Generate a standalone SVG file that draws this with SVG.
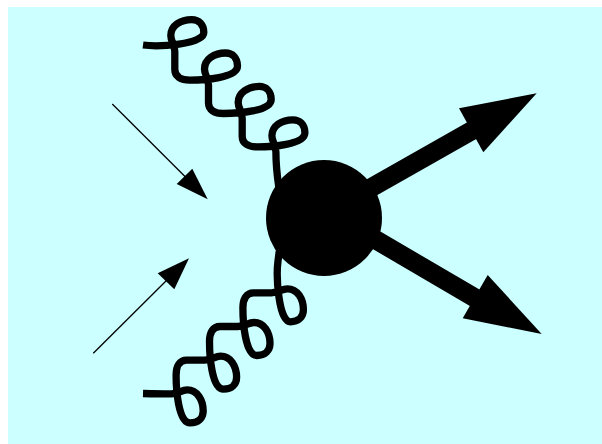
<svg xmlns="http://www.w3.org/2000/svg" width="602" height="444" viewBox="0 0 602 444">
<style>
.gluon{fill:none;stroke:#000;stroke-width:7.3;stroke-linejoin:round}
.thin{fill:none;stroke:#000;stroke-width:1.3}
.thick{fill:none;stroke:#000;stroke-width:19}
.head{fill:#000;stroke:none}
</style>
<rect x="8" y="7" width="594" height="437" fill="#ccffff"/>
<g id="connectors">
<path id="gluon-upper" class="gluon" d="M 143,45 C 158,47 203.8,44.6 203.8,32.6 c 0,-8 -5,-13 -12,-13 c -11,0 -21,6 -21,16 c 0,6 4,9 4,16 l 0,18 c 0,7 6,10.5 15,10.5 c 13.7,0 47.7,-2.1 47.7,-14.1 c 0,-8 -5,-13 -12,-13 c -11,0 -21,6 -21,16 c 0,6 4,9 4,16 l 0,18 c 0,7 6,10.5 15,10.5 c 13.7,0 47.7,-2.1 47.7,-14.1 c 0,-8 -5,-13 -12,-13 c -11,0 -21,6 -21,16 c 0,6 4,9 4,16 l 0,18 c 0,7 6,10.5 15,10.5 c 13.7,0 47.7,-2.1 47.7,-14.1 c 0,-8 -5,-13 -12,-13 c -11,0 -21,6 -21,16 c 0,6 4,9 4,16 c 0,12 1.5,26 3,36"/>
<path id="gluon-lower" class="gluon" transform="translate(1,2)" d="M 278.3,249 L 277,259 C 275,274 277.4,319.8 289.4,319.8 c 8,0 13,-5 13,-12 c 0,-11 -6,-21 -16,-21 c -6,0 -9,4 -16,4 l -18,0 c -7,0 -10.5,6 -10.5,15 c 0,13.7 2.1,47.7 14.1,47.7 c 8,0 13,-5 13,-12 c 0,-11 -6,-21 -16,-21 c -6,0 -9,4 -16,4 l -18,0 c -7,0 -10.5,6 -10.5,15 c 0,13.7 2.1,47.7 14.1,47.7 c 8,0 13,-5 13,-12 c 0,-11 -6,-21 -16,-21 c -6,0 -9,4 -16,4 l -18,0 c -7,0 -10.5,6 -10.5,15 c 0,13.7 2.1,47.7 14.1,47.7 c 8,0 13,-5 13,-12 c 0,-11 -6,-21 -16,-21 c -6,0 -9,4 -16,4 c -10,0 -20,-0.2 -28.2,-0.4"/>
<g id="arrow-in-upper">
<line class="thin" x1="112.3" y1="104" x2="190" y2="181.5"/>
<polygon class="head" points="207.7,199.3 176.7,184 192.3,168.7"/>
</g>
<g id="arrow-in-lower">
<line class="thin" x1="93.3" y1="353.3" x2="172" y2="275"/>
<polygon class="head" points="189,258.3 157.7,273.3 174.3,289.3"/>
</g>
<g id="arrow-out-upper">
<line class="thick" x1="330" y1="211" x2="472" y2="130.5"/>
<polygon class="head" points="536.7,93.3 459,108.3 483.3,152.3"/>
</g>
<g id="arrow-out-lower">
<line class="thick" x1="330" y1="213" x2="476" y2="298.5"/>
<polygon class="head" points="541.7,334 487.7,275 462.7,318.3"/>
</g>
</g>
<g id="blob">
<circle cx="324" cy="218" r="58" fill="#000"/>
</g>
</svg>
